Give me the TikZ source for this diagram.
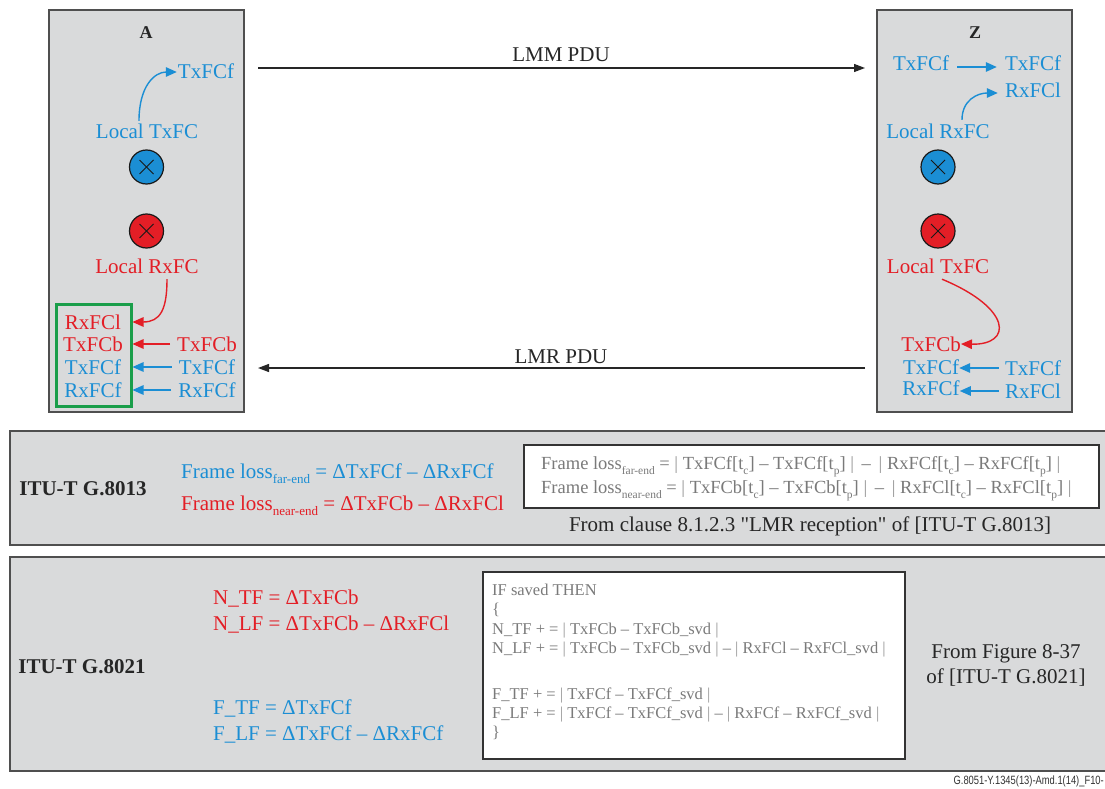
\documentclass[tikz,border=0pt]{standalone}
\usepackage{fontspec}
\setmainfont{Liberation Serif}
\newfontfamily\arialfont{Liberation Sans}
\usetikzlibrary{arrows.meta}
\definecolor{tblue}{HTML}{1B8ED4}
\definecolor{tred}{HTML}{E31E26}
\definecolor{tgreen}{HTML}{1A9E4A}
\definecolor{panelfill}{HTML}{D9DADB}
\definecolor{boxline}{HTML}{4F4F4F}
\definecolor{codegray}{HTML}{7A7A7A}
\newcommand\fsz[1]{\fontsize{#1}{#1}\selectfont}
\newcommand\sbs[1]{\raisebox{-0.28em}{\scalebox{0.62}{#1}}}
\newcommand\ab{\textcolor{codegray!80}{|}}
\begin{document}
\begin{tikzpicture}[x=1pt,y=-1pt,
  lbl/.style={inner sep=0pt, font=\fsz{21}, text height=14pt, text depth=0pt},
  bl/.style={lbl, text=tblue},
  rd/.style={lbl, text=tred},
  bold/.style={lbl, font=\fsz{21}\bfseries, text=black!85},
  ttl/.style={lbl, font=\fsz{18}\bfseries, text=black!85, text height=12pt},
  gf/.style={inner sep=0pt, font=\fsz{18.5}, text=codegray, text height=13pt, text depth=0pt, anchor=west},
  cd/.style={inner sep=0pt, font=\fsz{16.5}, text=codegray, text height=11pt, text depth=0pt, anchor=west},
  boxst/.style={draw=boxline, line width=1.5pt, fill=panelfill, inner sep=0pt},
  panel/.style={draw=boxline, line width=1.5pt, fill=panelfill},
  wbox/.style={draw=black!80, line width=1.3pt, fill=white, inner sep=0pt},
  arr/.style={-{Triangle[length=11pt,width=9.5pt]}, line width=1.4pt},
  barr/.style={-{Triangle[length=11pt,width=8pt]}, line width=1.3pt, draw=black!85},
  cb/.style={circle, draw=black!90, line width=1.2pt, fill=tblue, minimum size=34pt, inner sep=0pt},
  cr/.style={cb, fill=tred},
  crossst/.style={line width=0.9pt, draw=black!90}
]
\useasboundingbox (0,0) rectangle (1105,789);
\fill[white] (0,0) rectangle (1105,789);

% ---------- Node A ----------
\node[boxst, minimum width=195pt, minimum height=402pt] (boxA) at (146.5,211) {};
\node[ttl] (tA) at (146,33) {A};
\node[bl] (txA) at (206,72) {TxFCf};
\node[bl] (locTxA) at (147,132) {Local TxFC};
\node[cb] (cbA) at (146.5,167) {};
\node[cr] (crA) at (146.5,231) {};
\foreach \c in {cbA,crA}{
  \draw[crossst] ([shift={(-7,-7)}]\c.center) -- ([shift={(7,7)}]\c.center);
  \draw[crossst] ([shift={(-7,7)}]\c.center) -- ([shift={(7,-7)}]\c.center);
}
\node[rd] (locRxA) at (147,266) {Local RxFC};
\node[draw=tgreen, line width=3pt, minimum width=75pt, minimum height=102pt, inner sep=0pt] (gbox) at (93.5,355) {};
\node[rd] (g1) at (93,322) {RxFCl};
\node[rd] (g2) at (93,344) {TxFCb};
\node[bl] (g3) at (93,367) {TxFCf};
\node[bl] (g4) at (93,390) {RxFCf};
\node[rd] (r2) at (207,344) {TxFCb};
\node[bl] (r3) at (207,367) {TxFCf};
\node[bl] (r4) at (207,390) {RxFCf};

\draw[arr, tblue] ([xshift=-8pt,yshift=4pt]locTxA.north) .. controls +(0,-35) and +(-22,0) .. ([xshift=-1pt]txA.west);
\draw[arr, tred] ([xshift=20pt,yshift=-6pt]locRxA.south) .. controls +(0,30) and +(28,0) .. (gbox.east |- g1);
\draw[arr, tred] ([xshift=-7pt]r2.west) -- (gbox.east |- r2);
\draw[arr, tblue] ([xshift=-7pt]r3.west) -- (gbox.east |- r3);
\draw[arr, tblue] ([xshift=-7pt]r4.west) -- (gbox.east |- r4);

% ---------- Node Z ----------
\node[boxst, minimum width=195pt, minimum height=402pt] (boxZ) at (974.5,211) {};
\node[ttl] (tZ) at (975,33) {Z};
\node[bl] (zt1) at (921,64) {TxFCf};
\node[bl] (zt2) at (1033,64) {TxFCf};
\node[bl] (zr) at (1033,91) {RxFCl};
\node[bl] (locRxZ) at (938,132) {Local RxFC};
\node[cb] (cbZ) at (938,167) {};
\node[cr] (crZ) at (938,231) {};
\foreach \c in {cbZ,crZ}{
  \draw[crossst] ([shift={(-7,-7)}]\c.center) -- ([shift={(7,7)}]\c.center);
  \draw[crossst] ([shift={(-7,7)}]\c.center) -- ([shift={(7,-7)}]\c.center);
}
\node[rd] (locTxZ) at (938,266) {Local TxFC};
\node[rd] (zb) at (931,344) {TxFCb};
\node[bl] (zf) at (931,367) {TxFCf};
\node[bl] (zrf) at (931,388) {RxFCf};
\node[bl] (zf2) at (1033,368) {TxFCf};
\node[bl] (zrl) at (1033,391) {RxFCl};

\draw[arr, tblue] ([xshift=8pt,yshift=-3pt]zt1.east) -- ([xshift=-8pt,yshift=-3pt]zt2.west);
\draw[arr, tblue] ([xshift=24pt,yshift=5pt]locRxZ.north) .. controls +(0,-20) and +(-20,0) .. ([xshift=-7pt,yshift=-2pt]zr.west);
\draw[arr, tred] ([xshift=4pt,yshift=-6pt]locTxZ.south) .. controls +(70,29) and +(52,1) .. (zb.east);
\draw[arr, tblue] ([xshift=-6pt]zf2.west) -- (zf.east |- zf2);
\draw[arr, tblue] ([xshift=-6pt]zrl.west) -- (zrf.east |- zrl);

% ---------- PDUs ----------
\coordinate (lmmS) at (258,68);
\coordinate (lmmE) at (865,68);
\coordinate (lmrS) at (865,368);
\coordinate (lmrE) at (258,368);
\draw[barr] (lmmS) -- (lmmE);
\draw[barr] (lmrS) -- (lmrE);
\node[lbl, text=black!85] (lmm) at (561,55) {LMM PDU};
\node[lbl, text=black!85] (lmr) at (561,356) {LMR PDU};

% ---------- Panel G.8013 ----------
\draw[panel] (10,431) rectangle (1112,545);
\node[bold] (g8013) at (83,488) {ITU-T G.8013};
\node[bl, anchor=west] (fle) at (181,471) {Frame loss\sbs{far-end} = ΔTxFCf – ΔRxFCf};
\node[rd, anchor=west] (fln) at (181,503) {Frame loss\sbs{near-end} = ΔTxFCb – ΔRxFCl};
\node[wbox, minimum width=575pt, minimum height=63pt] (wb1) at (811.5,476.5) {};
\node[gf] (wf1) at (541,463) {Frame loss\sbs{far-end} =\ \ab\ TxFCf[t\sbs{c}] – TxFCf[t\sbs{p}]\ \ab\ \,–\ \,\ab\ RxFCf[t\sbs{c}] – RxFCf[t\sbs{p}]\ \ab};
\node[gf] (wf2) at (541,487) {Frame loss\sbs{near-end} =\ \ab\ TxFCb[t\sbs{c}] – TxFCb[t\sbs{p}]\ \ab\ \,–\ \,\ab\ RxFCl[t\sbs{c}] – RxFCl[t\sbs{p}]\ \ab};
\node[lbl, text=black!85] (src1) at (810,524) {From clause 8.1.2.3 \textquotedbl LMR reception\textquotedbl\ of [ITU-T G.8013]};

% ---------- Panel G.8021 ----------
\draw[panel] (10,557) rectangle (1112,771);
\node[bold] (g8021) at (82,666) {ITU-T G.8021};
\node[rd, anchor=west] (ntf) at (213,597) {N\_TF = ΔTxFCb};
\node[rd, anchor=west] (nlf) at (213,623) {N\_LF = ΔTxFCb – ΔRxFCl};
\node[bl, anchor=west] (ftf) at (213,707) {F\_TF = ΔTxFCf};
\node[bl, anchor=west] (flf) at (213,733) {F\_LF = ΔTxFCf – ΔRxFCf};
\node[wbox, minimum width=422pt, minimum height=187pt] (wb2) at (694,665.5) {};
\node[cd] (c1) at (492,590) {IF saved THEN};
\node[cd] (c2) at (492,609) {\{};
\node[cd] (c3) at (492,629) {N\_TF + =\ \ab\ TxFCb – TxFCb\_svd\ \ab};
\node[cd] (c4) at (492,648) {N\_LF + =\ \ab\ TxFCb – TxFCb\_svd\ \ab\ –\ \ab\ RxFCl – RxFCl\_svd\ \ab};
\node[cd] (c5) at (492,694) {F\_TF + =\ \ab\ TxFCf – TxFCf\_svd\ \ab};
\node[cd] (c6) at (492,713) {F\_LF + =\ \ab\ TxFCf – TxFCf\_svd\ \ab\ –\ \ab\ RxFCf – RxFCf\_svd\ \ab};
\node[cd] (c7) at (492,732) {\}};
\node[lbl, text=black!85] (src2a) at (1006,651) {From Figure 8-37};
\node[lbl, text=black!85] (src2b) at (1006,676) {of [ITU-T G.8021]};

% ---------- footer ----------
\node[inner sep=0pt, anchor=east, font=\arialfont\fsz{12}, text=black!80] (foot) at (1104,781) {\scalebox{0.78}[1]{G.8051-Y.1345(13)-Amd.1(14)\_F10-}};
\end{tikzpicture}
\end{document}
